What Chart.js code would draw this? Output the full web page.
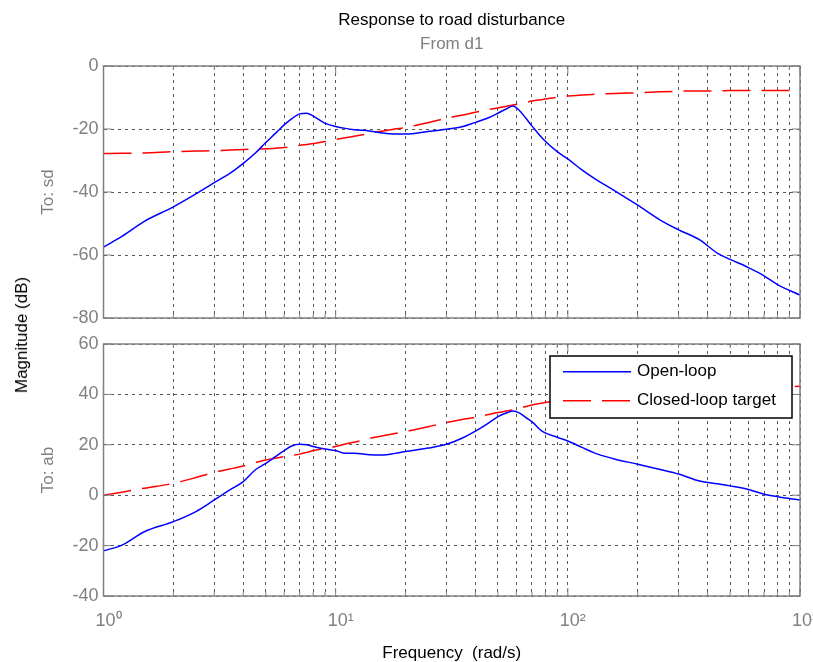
<!DOCTYPE html>
<html>
<head>
<meta charset="utf-8">
<script src="https://cdn.jsdelivr.net/npm/chart.js@4.4.1/dist/chart.umd.min.js"></script>
<style>
  body { margin: 0; background: #fff; }
  #wrap { position: relative; width: 813px; height: 662px; overflow: hidden; }
  canvas { position: absolute; left: 0; }
  #c1 { top: 0; }
  #c2 { top: 332px; }
  #ylab {
    position: absolute; left: 22px; top: 335px;
    transform: translate(-50%, -50%) rotate(-90deg);
    font: 17px 'Liberation Sans', Arial, sans-serif; color: #000; white-space: nowrap;
  }
</style>
</head>
<body>
<div id="wrap">
  <canvas id="c1" width="813" height="332"></canvas>
  <canvas id="c2" width="813" height="330"></canvas>
  <div id="ylab">Magnitude (dB)</div>
</div>
<script>
// frequency points (rad/s)
const freq = [1, 1.2, 1.5, 2, 2.5, 3, 3.5, 4, 4.5, 5, 5.5, 6, 6.5, 7, 7.5, 8, 9, 10, 11, 12, 14, 16, 18, 20,
  25, 30, 35, 40, 45, 50, 55, 58, 62, 66, 70, 78, 90, 100, 115, 130, 160, 200, 250, 300, 370, 440, 500,
  600, 700, 800, 1000];

// To: sd
const sdOpenLoop = [-57.5, -54.1, -49.3, -44.7, -40.6, -37, -34.1, -30.9, -27.7, -24.3, -21.4, -18.7, -16.6,
  -15.2, -15, -15.9, -18.2, -19.2, -19.8, -20.2, -20.6, -21.3, -21.6, -21.6, -20.8, -20.1, -19.3, -17.9,
  -16.6, -15, -13.4, -12.7, -14.2, -16.6, -19, -23.1, -27.2, -29.5, -33, -35.7, -39.7, -44.2, -48.9, -52,
  -55.2, -59.4, -61.4, -64, -66.6, -69.4, -72.7];
const sdTarget = [-27.8, -27.7, -27.6, -27.2, -27, -26.9, -26.7, -26.5, -26.4, -26.3, -26.1, -25.9, -25.6,
  -25.2, -24.9, -24.6, -24, -23.3, -22.8, -22.3, -21.4, -20.6, -20, -19.5, -18, -16.6, -15.6, -14.7, -13.9,
  -13.3, -12.7, -12.4, -12, -11.6, -11.1, -10.6, -9.9, -9.5, -9.2, -9, -8.7, -8.5, -8.2, -8, -7.9, -7.9,
  -7.8, -7.8, -7.8, -7.8, -7.8];

// To: ab
const abOpenLoop = [-22.1, -19.8, -14.5, -10.5, -6.5, -1.9, 2.1, 5.4, 10, 12.6, 15.3, 17.7, 19.6, 20.2, 20,
  19.3, 18.3, 17.7, 16.6, 16.6, 16.1, 16, 16.6, 17.3, 18.7, 20.2, 22.6, 25.4, 28.3, 31.2, 32.8, 33.4, 32.6,
  30.8, 29.2, 25.2, 23, 21.5, 19, 16.8, 14.3, 12.3, 10.2, 8.4, 5.6, 4.5, 3.7, 2.3, 0.4, -0.6, -1.9];
const abTarget = [0, 1.2, 2.8, 4.7, 7, 9.1, 10.4, 11.6, 12.9, 14, 14.7, 15.3, 15.8, 16.3, 17, 17.7, 18.5,
  19.3, 20.3, 21, 22.5, 23.6, 24.5, 25.2, 27.2, 28.8, 30, 30.9, 31.9, 32.8, 33.5, 33.9, 34.5, 35.2, 35.8,
  36.6, 37.6, 38.3, 39, 39.6, 40.4, 41, 41.6, 42, 42.3, 42.5, 42.7, 42.9, 43, 43.1, 43.2];

// x grid positions and labels
const xTicks = [1, 2, 3, 4, 5, 6, 7, 8, 9, 10, 20, 30, 40, 50, 60, 70, 80, 90,
  100, 200, 300, 400, 500, 600, 700, 800, 900, 1000];
const decades = [1, 10, 100, 1000];
const decadeLabels = ['10\u2070', '10\u00b9', '10\u00b2', '10\u00b3'];

const FONT = "'Liberation Sans', Arial, sans-serif";
const GRID = '#555';
const BOX = '#808080';
const TICKCOL = '#808080';

Chart.defaults.font.family = FONT;
Chart.defaults.animation = false;

const pts = ys => freq.map((f, i) => ({ x: f, y: ys[i] }));

const axesBox = {
  id: 'axesBox',
  afterDatasetsDraw(chart) {
    const { ctx, chartArea: a, scales } = chart;
    ctx.save();
    ctx.strokeStyle = BOX;
    ctx.lineWidth = 1.5;
    ctx.strokeRect(a.left, a.top, a.right - a.left, a.bottom - a.top);
    ctx.lineWidth = 1;
    ctx.beginPath();
    scales.x.ticks.forEach(t => {
      const px = scales.x.getPixelForValue(t.value);
      const len = decades.includes(t.value) ? 8 : 4;
      ctx.moveTo(px, a.bottom); ctx.lineTo(px, a.bottom - len);
      ctx.moveTo(px, a.top); ctx.lineTo(px, a.top + len);
    });
    scales.y.ticks.forEach(t => {
      const py = scales.y.getPixelForValue(t.value);
      ctx.moveTo(a.left, py); ctx.lineTo(a.left + 8, py);
      ctx.moveTo(a.right, py); ctx.lineTo(a.right - 8, py);
    });
    ctx.stroke();
    ctx.restore();
  }
};

const legendBox = {
  id: 'legendBox',
  afterDraw(chart) {
    const { ctx, chartArea } = chart;
    const w = 242, h = 62;
    const x = chartArea.right - 8 - w, y = chartArea.top + 12;
    ctx.save();
    ctx.fillStyle = '#fff';
    ctx.fillRect(x, y, w, h);
    ctx.strokeStyle = '#000';
    ctx.lineWidth = 1.5;
    ctx.strokeRect(x, y, w, h);
    ctx.font = '17px ' + FONT;
    ctx.textBaseline = 'middle';
    chart.data.datasets.forEach((ds, i) => {
      const ly = y + 15.7 + i * 29;
      ctx.strokeStyle = ds.borderColor;
      ctx.lineWidth = ds.borderWidth;
      ctx.setLineDash(ds.borderDash || []);
      ctx.beginPath();
      ctx.moveTo(x + 13, ly);
      ctx.lineTo(x + 81, ly);
      ctx.stroke();
      ctx.setLineDash([]);
      ctx.fillStyle = '#000';
      ctx.fillText(ds.label, x + 87, ly);
    });
    ctx.restore();
  }
};

function datasets(open, target) {
  return [
    { label: 'Open-loop', data: pts(open), borderColor: '#0000ff', borderWidth: 1.5,
      pointRadius: 0, cubicInterpolationMode: 'monotone' },
    { label: 'Closed-loop target', data: pts(target), borderColor: '#ff0000', borderWidth: 1.5,
      borderDash: [28, 11], pointRadius: 0, cubicInterpolationMode: 'monotone' }
  ];
}

function xAxis(showLabels, height) {
  return {
    type: 'logarithmic',
    min: 1,
    max: 1000,
    afterBuildTicks: axis => { axis.ticks = xTicks.map(v => ({ value: v })); },
    afterFit: axis => { axis.height = height; axis.paddingLeft = 0; axis.paddingRight = 0; },
    grid: { color: GRID, lineWidth: 1, drawTicks: false },
    border: { display: false, dash: [3, 4] },
    ticks: {
      display: showLabels,
      autoSkip: false,
      maxRotation: 0,
      padding: 14,
      labelOffset: 5,
      color: TICKCOL,
      font: { size: 18 },
      callback: v => { const i = decades.indexOf(v); return i >= 0 ? decadeLabels[i] : ''; }
    },
    title: showLabels ? {
      display: true, text: 'Frequency  (rad/s)', color: '#000',
      font: { size: 17, lineHeight: 1 }, padding: { top: 0, bottom: 0.5 }
    } : { display: false }
  };
}

function yAxis(min, max, name) {
  return {
    min: min,
    max: max,
    afterFit: axis => { axis.width = 103.5; axis.paddingTop = 0; axis.paddingBottom = 0; },
    grid: { color: GRID, lineWidth: 1, drawTicks: false },
    border: { display: false, dash: [3, 4] },
    ticks: { stepSize: 20, padding: 5, color: TICKCOL, font: { size: 18 } },
    title: { display: true, text: name, color: TICKCOL, font: { size: 17 },
      padding: { top: 37.8, bottom: 0 } }
  };
}

new Chart(document.getElementById('c1'), {
  type: 'line',
  data: { datasets: datasets(sdOpenLoop, sdTarget) },
  options: {
    responsive: false,
    layout: { padding: { left: 0, right: 13, top: 0, bottom: 0 } },
    scales: { x: xAxis(false, 14), y: yAxis(-80, 0, 'To: sd') },
    plugins: {
      legend: { display: false },
      tooltip: { enabled: false },
      title: { display: true, text: 'Response to road disturbance', color: '#000', fullSize: false,
        font: { size: 17, weight: 'normal' }, padding: { top: 10.6, bottom: 0 } },
      subtitle: { display: true, text: 'From d1', color: TICKCOL, fullSize: false,
        font: { size: 17, weight: 'normal' }, padding: { top: 3, bottom: 11.6 } }
    }
  },
  plugins: [axesBox]
});

new Chart(document.getElementById('c2'), {
  type: 'line',
  data: { datasets: datasets(abOpenLoop, abTarget) },
  options: {
    responsive: false,
    layout: { padding: { left: 0, right: 13, top: 12, bottom: 0 } },
    scales: { x: xAxis(true, 66), y: yAxis(-40, 60, 'To: ab') },
    plugins: {
      legend: { display: false },
      tooltip: { enabled: false }
    }
  },
  plugins: [axesBox, legendBox]
});
</script>
</body>
</html>
